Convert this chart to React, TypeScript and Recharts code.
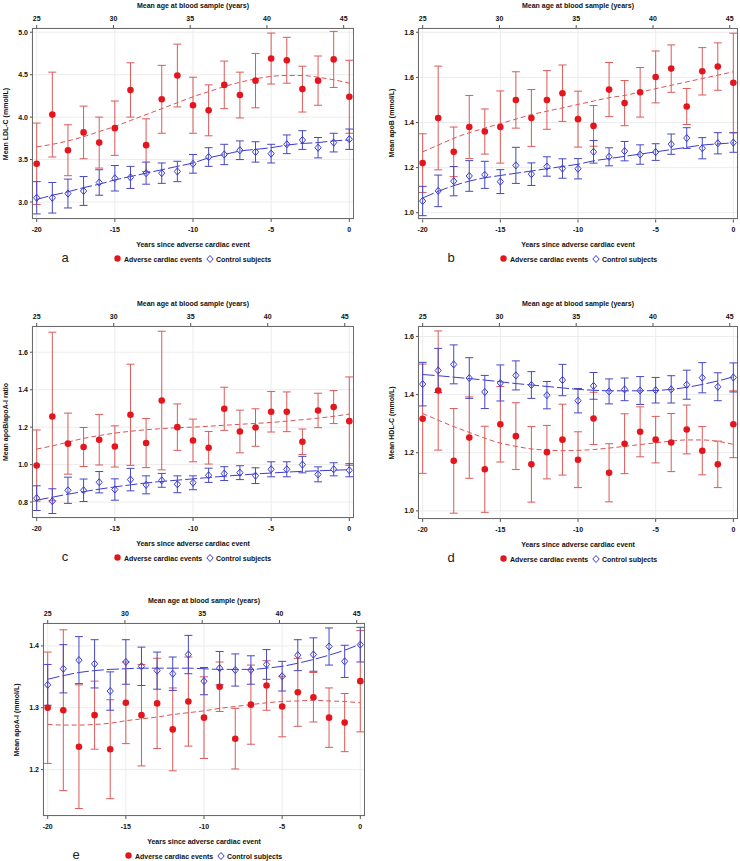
import React from 'react';
import { ComposedChart, Line, Scatter, ErrorBar, XAxis, YAxis, CartesianGrid } from 'recharts';

const YEARS = [-20, -19, -18, -17, -16, -15, -14, -13, -12, -11, -10, -9, -8, -7, -6, -5, -4, -3, -2, -1, 0];
const YEAR_TICKS = [-20, -15, -10, -5, 0];
const AGE_TICKS = [25, 30, 35, 40, 45];

// LDL-C
const LDL_EVENT = [3.45, 4.03, 3.61, 3.82, 3.70, 3.87, 4.32, 3.67, 4.21, 4.49, 4.14, 4.08, 4.38, 4.26, 4.43, 4.69, 4.67, 4.33, 4.43, 4.68, 4.24];
const LDL_EVENT_CI = [0.48, 0.50, 0.30, 0.31, 0.30, 0.32, 0.32, 0.31, 0.40, 0.37, 0.33, 0.30, 0.28, 0.27, 0.32, 0.30, 0.27, 0.27, 0.29, 0.33, 0.43];
const LDL_CONTROL = [3.05, 3.05, 3.10, 3.13, 3.23, 3.28, 3.29, 3.34, 3.34, 3.36, 3.45, 3.53, 3.56, 3.61, 3.59, 3.57, 3.68, 3.73, 3.64, 3.70, 3.74];
const LDL_CONTROL_CI = [0.19, 0.18, 0.17, 0.17, 0.15, 0.15, 0.13, 0.13, 0.12, 0.12, 0.11, 0.11, 0.12, 0.11, 0.12, 0.11, 0.11, 0.11, 0.12, 0.11, 0.12];
const LDL_EVENT_FIT = [3.65, 3.68, 3.72, 3.77, 3.83, 3.89, 3.96, 4.03, 4.10, 4.17, 4.24, 4.30, 4.36, 4.41, 4.45, 4.48, 4.49, 4.49, 4.47, 4.44, 4.40];
const LDL_CONTROL_FIT = [3.03, 3.08, 3.12, 3.17, 3.21, 3.26, 3.30, 3.34, 3.38, 3.42, 3.46, 3.52, 3.56, 3.60, 3.62, 3.64, 3.67, 3.69, 3.70, 3.72, 3.73];

// apoB
const APOB_EVENT = [1.22, 1.42, 1.27, 1.38, 1.36, 1.38, 1.50, 1.42, 1.50, 1.53, 1.415, 1.385, 1.546, 1.486, 1.534, 1.602, 1.639, 1.471, 1.627, 1.648, 1.576];
const APOB_EVENT_CI = [0.13, 0.23, 0.11, 0.14, 0.10, 0.16, 0.125, 0.126, 0.13, 0.125, 0.124, 0.09, 0.12, 0.10, 0.11, 0.115, 0.105, 0.08, 0.105, 0.105, 0.22];
const APOB_CONTROL = [1.052, 1.097, 1.14, 1.163, 1.168, 1.138, 1.21, 1.171, 1.205, 1.196, 1.195, 1.27, 1.248, 1.273, 1.258, 1.269, 1.304, 1.331, 1.286, 1.308, 1.311];
const APOB_CONTROL_CI = [0.065, 0.07, 0.065, 0.068, 0.06, 0.053, 0.08, 0.05, 0.043, 0.043, 0.045, 0.05, 0.04, 0.043, 0.043, 0.037, 0.045, 0.046, 0.047, 0.047, 0.043];
const APOB_EVENT_FIT = [1.27, 1.30, 1.33, 1.355, 1.375, 1.395, 1.415, 1.435, 1.45, 1.465, 1.48, 1.495, 1.51, 1.52, 1.535, 1.55, 1.565, 1.58, 1.595, 1.61, 1.625];
const APOB_CONTROL_FIT = [1.065, 1.095, 1.12, 1.14, 1.155, 1.165, 1.175, 1.185, 1.195, 1.205, 1.215, 1.23, 1.24, 1.25, 1.26, 1.27, 1.28, 1.29, 1.30, 1.305, 1.31];

// apoB/apoA-I ratio
const RATIO_EVENT = [0.995, 1.257, 1.112, 1.094, 1.133, 1.097, 1.266, 1.115, 1.342, 1.20, 1.129, 1.09, 1.298, 1.177, 1.198, 1.282, 1.282, 1.122, 1.289, 1.307, 1.232];
const RATIO_EVENT_CI = [0.19, 0.45, 0.163, 0.104, 0.135, 0.11, 0.27, 0.131, 0.37, 0.124, 0.114, 0.087, 0.115, 0.114, 0.10, 0.108, 0.106, 0.068, 0.092, 0.088, 0.236];
const RATIO_CONTROL = [0.821, 0.805, 0.863, 0.863, 0.906, 0.867, 0.92, 0.892, 0.916, 0.895, 0.903, 0.943, 0.952, 0.957, 0.941, 0.975, 0.975, 1.0, 0.948, 0.975, 0.97];
const RATIO_CONTROL_CI = [0.066, 0.066, 0.07, 0.06, 0.057, 0.057, 0.06, 0.048, 0.037, 0.045, 0.037, 0.038, 0.037, 0.037, 0.042, 0.04, 0.04, 0.044, 0.04, 0.035, 0.035];
const RATIO_EVENT_FIT = [1.083, 1.10, 1.12, 1.14, 1.155, 1.168, 1.178, 1.186, 1.192, 1.197, 1.20, 1.205, 1.21, 1.215, 1.22, 1.225, 1.232, 1.24, 1.248, 1.258, 1.27];
const RATIO_CONTROL_FIT = [0.81, 0.826, 0.842, 0.856, 0.869, 0.881, 0.892, 0.902, 0.91, 0.917, 0.924, 0.931, 0.938, 0.944, 0.95, 0.955, 0.96, 0.964, 0.967, 0.97, 0.973];

// HDL-C
const HDL_EVENT = [1.317, 1.414, 1.172, 1.252, 1.143, 1.298, 1.257, 1.16, 1.202, 1.245, 1.176, 1.318, 1.131, 1.231, 1.272, 1.245, 1.235, 1.28, 1.207, 1.16, 1.298];
const HDL_EVENT_CI = [0.188, 0.205, 0.18, 0.14, 0.148, 0.13, 0.115, 0.13, 0.092, 0.122, 0.096, 0.09, 0.10, 0.103, 0.086, 0.08, 0.10, 0.084, 0.083, 0.08, 0.115];
const HDL_CONTROL = [1.436, 1.483, 1.504, 1.457, 1.409, 1.44, 1.466, 1.433, 1.398, 1.45, 1.379, 1.43, 1.411, 1.418, 1.414, 1.415, 1.418, 1.434, 1.458, 1.427, 1.459];
const HDL_CONTROL_CI = [0.075, 0.076, 0.067, 0.07, 0.057, 0.062, 0.05, 0.046, 0.047, 0.054, 0.042, 0.046, 0.043, 0.039, 0.048, 0.044, 0.047, 0.05, 0.052, 0.048, 0.05];
const HDL_EVENT_FIT = [1.335, 1.312, 1.29, 1.27, 1.25, 1.233, 1.222, 1.213, 1.209, 1.207, 1.208, 1.211, 1.216, 1.222, 1.228, 1.234, 1.24, 1.244, 1.244, 1.239, 1.229];
const HDL_CONTROL_FIT = [1.469, 1.465, 1.46, 1.455, 1.45, 1.444, 1.438, 1.433, 1.428, 1.423, 1.418, 1.415, 1.413, 1.413, 1.413, 1.414, 1.418, 1.425, 1.435, 1.447, 1.461];

// apoA-I
const APOA_EVENT = [1.30, 1.296, 1.237, 1.288, 1.233, 1.308, 1.288, 1.307, 1.265, 1.31, 1.284, 1.334, 1.25, 1.305, 1.336, 1.302, 1.325, 1.317, 1.284, 1.276, 1.343];
const APOA_EVENT_CI = [0.09, 0.13, 0.10, 0.055, 0.08, 0.066, 0.082, 0.073, 0.067, 0.072, 0.066, 0.04, 0.049, 0.064, 0.04, 0.049, 0.055, 0.04, 0.048, 0.047, 0.082];
const APOA_CONTROL = [1.337, 1.363, 1.377, 1.371, 1.327, 1.374, 1.367, 1.36, 1.355, 1.386, 1.343, 1.364, 1.361, 1.361, 1.37, 1.351, 1.385, 1.386, 1.399, 1.375, 1.402];
const APOA_CONTROL_CI = [0.033, 0.039, 0.038, 0.039, 0.031, 0.036, 0.031, 0.03, 0.027, 0.031, 0.022, 0.027, 0.026, 0.023, 0.024, 0.024, 0.025, 0.027, 0.03, 0.026, 0.028];
const APOA_EVENT_FIT = [1.273, 1.272, 1.272, 1.273, 1.275, 1.279, 1.282, 1.285, 1.289, 1.292, 1.295, 1.299, 1.302, 1.305, 1.308, 1.31, 1.311, 1.312, 1.311, 1.31, 1.308];
const APOA_CONTROL_FIT = [1.346, 1.352, 1.357, 1.36, 1.362, 1.363, 1.364, 1.364, 1.364, 1.364, 1.363, 1.362, 1.362, 1.362, 1.364, 1.367, 1.372, 1.378, 1.385, 1.393, 1.403];

const FONT = '"Liberation Sans", Arial, sans-serif';
const RED = '#e3161d';
const RED_BAR = '#dc5a5a';
const RED_FIT = '#d85555';
const BLUE = '#3b3bcf';
const BLUE_BAR = '#4848c2';
const X_DOMAIN: [number, number] = [-20.3, 0.3];
const YW = 28;
const TH = 26;
const BH = 16;

const tickStyle = { fontSize: 7, fontWeight: 'bold', fill: '#111' };

const RedDot = (p: any) => <circle cx={p.cx} cy={p.cy} r={3.3} fill={RED} />;
const Diamond = (p: any) => (
  <polygon
    points={`${p.cx},${p.cy - 3.6} ${p.cx + 3.1},${p.cy} ${p.cx},${p.cy + 3.6} ${p.cx - 3.1},${p.cy}`}
    fill="none" stroke={BLUE} strokeWidth={1}
  />
);

function Txt({ x, y, children, style }: { x: number; y: number; children: React.ReactNode; style?: React.CSSProperties }) {
  return (
    <div style={{ position: 'absolute', left: x, top: y, transform: 'translate(-50%, -50%)', whiteSpace: 'nowrap', lineHeight: 1, ...style }}>
      {children}
    </div>
  );
}

interface PanelProps {
  fx: number; fy: number; fw: number; fh: number;
  letter: string; yLabel: string;
  yDomain: [number, number]; yTicks: number[];
  age45Year: number;
  event: number[]; eventCi: number[]; control: number[]; controlCi: number[];
  eventFit: number[]; controlFit: number[];
}

function Panel(p: PanelProps) {
  const rows = YEARS.map((x, i) => ({
    x,
    ev: p.event[i], evErr: p.eventCi[i],
    ct: p.control[i], ctErr: p.controlCi[i],
    evFit: p.eventFit[i], ctFit: p.controlFit[i],
  }));
  // top axis: age 25 sits at year -20, age 45 at year age45Year
  const span = 20 + p.age45Year;
  const ageTicks = AGE_TICKS.map(a => -20 + ((a - 25) * span) / 20);
  const toAge = (v: number) => Math.round(25 + ((v + 20) * 20) / span);
  const cx = p.fx + p.fw / 2;
  const bottom = p.fy + p.fh;
  const bold: React.CSSProperties = { fontSize: 7, fontWeight: 'bold', color: '#111' };

  return (
    <>
      <div style={{ position: 'absolute', left: p.fx - YW, top: p.fy - TH }}>
        <ComposedChart width={YW + p.fw} height={TH + p.fh + BH} data={rows} margin={{ top: 0, right: 0, bottom: 0, left: 0 }}>
          <CartesianGrid stroke="#ececec" />
          <XAxis
            dataKey="x" type="number" domain={X_DOMAIN} ticks={YEAR_TICKS} allowDataOverflow interval={0}
            height={BH} axisLine={false} tickSize={3} tickMargin={5} tick={tickStyle} tickLine={{ stroke: '#555' }}
          />
          <XAxis
            xAxisId="age" dataKey="x" orientation="top" type="number" domain={X_DOMAIN} ticks={ageTicks} allowDataOverflow interval={0}
            height={TH} axisLine={false} tickSize={3} tickMargin={4.5} tick={tickStyle} tickLine={{ stroke: '#555' }}
            tickFormatter={toAge}
          />
          <YAxis
            type="number" domain={p.yDomain} ticks={p.yTicks} allowDataOverflow width={YW} interval={0}
            axisLine={false} tickSize={2} tickMargin={2} tick={tickStyle} tickLine={{ stroke: '#555' }}
            tickFormatter={(v: number) => v.toFixed(1)}
          />
          <Line xAxisId="age" dataKey="evFit" stroke="none" dot={false} activeDot={false} isAnimationActive={false} />
          <Line dataKey="evFit" type="monotone" stroke={RED_FIT} strokeWidth={1} strokeDasharray="5 3" dot={false} isAnimationActive={false} />
          <Line dataKey="ctFit" type="monotone" stroke={BLUE} strokeWidth={1} strokeDasharray="12 3" dot={false} isAnimationActive={false} />
          <Scatter dataKey="ev" shape={RedDot} isAnimationActive={false}>
            <ErrorBar dataKey="evErr" direction="y" width={4} stroke={RED_BAR} strokeWidth={1} />
          </Scatter>
          <Scatter dataKey="ct" shape={Diamond} isAnimationActive={false}>
            <ErrorBar dataKey="ctErr" direction="y" width={4} stroke={BLUE_BAR} strokeWidth={1} />
          </Scatter>
        </ComposedChart>
      </div>
      <div style={{ position: 'absolute', left: p.fx, top: p.fy, width: p.fw, height: p.fh, boxSizing: 'border-box', border: '1px solid #6b6b6b', pointerEvents: 'none' }} />
      <Txt x={cx} y={p.fy - 23} style={bold}>Mean age at blood sample (years)</Txt>
      <Txt x={cx} y={bottom + 24.5} style={bold}>Years since adverse cardiac event</Txt>
      <div style={{ position: 'absolute', left: p.fx - 27.5, top: p.fy + p.fh / 2, transform: 'translate(-50%, -50%) rotate(-90deg)', whiteSpace: 'nowrap', lineHeight: 1, ...bold }}>
        {p.yLabel}
      </div>
      <Txt x={p.fx + 33} y={bottom + 37.5} style={{ fontSize: 13, color: '#222' }}>{p.letter}</Txt>
      <svg style={{ position: 'absolute', left: p.fx + 82, top: bottom + 36 }} width={7} height={7}>
        <circle cx={3.5} cy={3.5} r={3.2} fill={RED} />
      </svg>
      <div style={{ position: 'absolute', left: p.fx + 92, top: bottom + 39.5, transform: 'translateY(-50%)', whiteSpace: 'nowrap', lineHeight: 1, ...bold }}>
        Adverse cardiac events
      </div>
      <svg style={{ position: 'absolute', left: p.fx + 174, top: bottom + 35.5 }} width={8} height={8}>
        <polygon points="4,0.5 7.2,4 4,7.5 0.8,4" fill="none" stroke={BLUE} strokeWidth={1} />
      </svg>
      <div style={{ position: 'absolute', left: p.fx + 184, top: bottom + 39.5, transform: 'translateY(-50%)', whiteSpace: 'nowrap', lineHeight: 1, ...bold }}>
        Control subjects
      </div>
    </>
  );
}

export default function App() {
  return (
    <div style={{ position: 'absolute', left: 0, top: 0, width: 740, height: 861, background: '#fff', fontFamily: FONT, overflow: 'hidden' }}>
      <Panel
        fx={32} fy={28} fw={322} fh={191} letter="a" yLabel="Mean LDL-C (mmol/L)"
        yDomain={[2.8, 5.05]} yTicks={[3.0, 3.5, 4.0, 4.5, 5.0]} age45Year={-0.36}
        event={LDL_EVENT} eventCi={LDL_EVENT_CI} control={LDL_CONTROL} controlCi={LDL_CONTROL_CI}
        eventFit={LDL_EVENT_FIT} controlFit={LDL_CONTROL_FIT}
      />
      <Panel
        fx={418} fy={27.5} fw={320} fh={191.5} letter="b" yLabel="Mean apoB (mmol/L)"
        yDomain={[0.97, 1.819]} yTicks={[1.0, 1.2, 1.4, 1.6, 1.8]} age45Year={-0.23}
        event={APOB_EVENT} eventCi={APOB_EVENT_CI} control={APOB_CONTROL} controlCi={APOB_CONTROL_CI}
        eventFit={APOB_EVENT_FIT} controlFit={APOB_CONTROL_FIT}
      />
      <Panel
        fx={32} fy={326} fw={322} fh={192} letter="c" yLabel="Mean apoB/apoA-I ratio"
        yDomain={[0.715, 1.74]} yTicks={[0.8, 1.0, 1.2, 1.4, 1.6]} age45Year={-0.29}
        event={RATIO_EVENT} eventCi={RATIO_EVENT_CI} control={RATIO_CONTROL} controlCi={RATIO_CONTROL_CI}
        eventFit={RATIO_EVENT_FIT} controlFit={RATIO_CONTROL_FIT}
      />
      <Panel
        fx={418} fy={326} fw={320} fh={193} letter="d" yLabel="Mean HDL-C (mmol/L)"
        yDomain={[0.972, 1.636]} yTicks={[1.0, 1.2, 1.4, 1.6]} age45Year={-0.23}
        event={HDL_EVENT} eventCi={HDL_EVENT_CI} control={HDL_CONTROL} controlCi={HDL_CONTROL_CI}
        eventFit={HDL_EVENT_FIT} controlFit={HDL_CONTROL_FIT}
      />
      <Panel
        fx={43} fy={623} fw={322} fh={193} letter="e" yLabel="Mean apoA-I (mmol/L)"
        yDomain={[1.125, 1.437]} yTicks={[1.2, 1.3, 1.4]} age45Year={-0.23}
        event={APOA_EVENT} eventCi={APOA_EVENT_CI} control={APOA_CONTROL} controlCi={APOA_CONTROL_CI}
        eventFit={APOA_EVENT_FIT} controlFit={APOA_CONTROL_FIT}
      />
    </div>
  );
}
